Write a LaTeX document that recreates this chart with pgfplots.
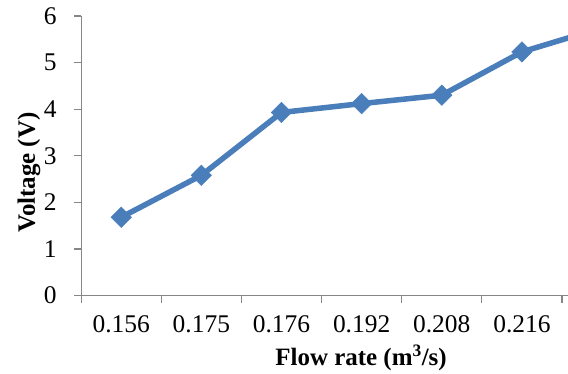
\documentclass[border=0pt]{standalone}
\usepackage{fontspec}
\setmainfont{Liberation Serif}
\usepackage{pgfplots}
\pgfplotsset{compat=1.18}
\definecolor{serblue}{RGB}{74,126,187}
\definecolor{axgray}{RGB}{134,134,134}

\begin{document}
\begin{tikzpicture}
\begin{axis}[
  scale only axis,
  x=80bp, y=46.5bp,
  xmin=-0.5, xmax=5.575,
  ymin=0, ymax=6,
  axis x line*=bottom,
  axis y line*=left,
  axis line style={axgray, line width=1.2bp},
  every tick/.style={axgray, line width=1.2bp},
  tick align=outside,
  major tick length=7bp,
  minor tick length=7bp,
  xtick={0,1,2,3,4,5},
  xticklabels={0.156,0.175,0.176,0.192,0.208,0.216},
  major x tick style={draw=none},
  minor xtick={-0.5,0.5,1.5,2.5,3.5,4.5,5.5},
  ytick={0,1,2,3,4,5,6},
  tick label style={font=\fontsize{25.5}{27}\selectfont, black},
  xticklabel style={yshift=-9bp},
  yticklabel style={xshift=-14bp},
  /pgf/number format/assume math mode=true,
  every axis x label/.style={at={(axis description cs:0.575,0)}, yshift=-62bp, anchor=center},
  every axis y label/.style={at={(axis description cs:0,0.44)}, xshift=-52bp, rotate=90, anchor=center},
  label style={font=\fontsize{25}{27}\selectfont\bfseries},
  xlabel={Flow rate (m\textsuperscript{3}/s)},
  ylabel={Voltage (V)},
  clip=true,
]
% measured voltage at each flow rate; the last reading runs past the right edge
\addplot[serblue, line width=5.5bp, mark=square*, mark size=7.2bp,
  mark options={rotate=45, solid, fill=serblue, draw=serblue, line width=0.5bp}]
  coordinates {(0,1.68) (1,2.58) (2,3.93) (3,4.12) (4,4.30) (5,5.23) (6,5.75)};
\end{axis}
\pgfresetboundingbox
\path[use as bounding box]
  ([xshift=-81bp,yshift=-78bp]current axis.south west)
  rectangle ([yshift=16bp]current axis.north east);
\end{tikzpicture}
\end{document}
